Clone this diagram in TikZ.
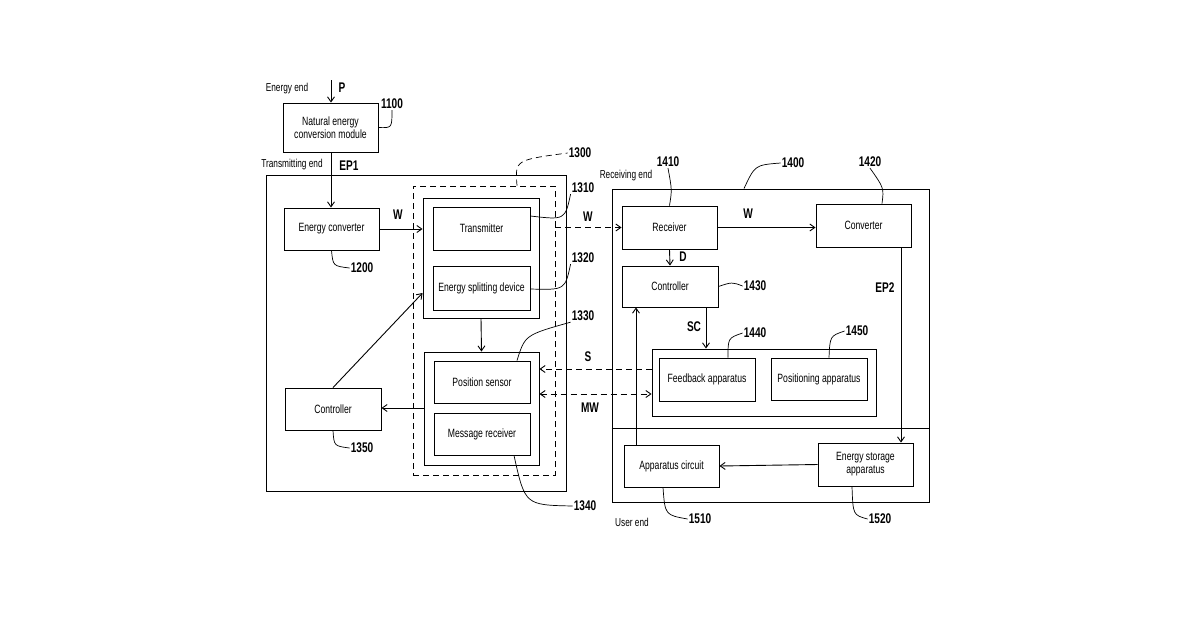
\documentclass[tikz,border=0pt]{standalone}
\usepackage{fontspec}
\setmainfont{Liberation Sans}[FakeStretch=0.72]
\usetikzlibrary{arrows.meta}
\tikzset{
  box/.style={draw, line width=0.9pt, inner sep=0pt, align=center, font=\fontsize{12}{13}\selectfont},
  lbl/.style={font=\fontsize{14}{14}\selectfont\bfseries, inner sep=1pt},
  txt/.style={font=\fontsize{11.5}{11.5}\selectfont, inner sep=1pt},
  lead/.style={line width=0.7pt},
  flow/.style={line width=0.9pt, -{Straight Barb[length=5pt,width=7pt]}},
  dflow/.style={flow, dash pattern=on 6pt off 4pt},
}
\begin{document}
\begin{tikzpicture}[x=1pt,y=-1pt]
    \useasboundingbox (0,0) rectangle (1200,630);

    % Transmitting side
    \node[box, minimum width=95, minimum height=49] (nec) at (330.5,127.5) {Natural energy\\conversion module};
    \coordinate (pin) at (331,80);
    \node[draw, line width=0.9pt, minimum width=300, minimum height=316] (tx) at (416,333) {};
    \node[draw, line width=0.8pt, dash pattern=on 6pt off 4pt, minimum width=142, minimum height=289] (mod) at (484,330.5) {};
    \node[box, minimum width=95, minimum height=42] (ec) at (331.5,229) {Energy converter};
    \node[draw, line width=0.9pt, minimum width=116, minimum height=120] (grpa) at (481,258) {};
    \node[box, minimum width=97, minimum height=43] (tr) at (481.5,228.5) {Transmitter};
    \node[box, minimum width=97, minimum height=44] (es) at (481.5,288) {Energy splitting device};
    \node[draw, line width=0.9pt, minimum width=115, minimum height=113] (grpb) at (481.5,408.5) {};
    \node[box, minimum width=96, minimum height=42] (ps) at (482,382) {Position sensor};
    \node[box, minimum width=96, minimum height=42] (mr) at (482,434) {Message receiver};
    \node[box, minimum width=96, minimum height=42] (ctla) at (333,409) {Controller};

    % Receiving side
    \node[draw, line width=0.9pt, minimum width=317, minimum height=313] (rx) at (770.5,345.5) {};
    \node[box, minimum width=95, minimum height=43] (rcv) at (669.5,227.5) {Receiver};
    \node[box, minimum width=95, minimum height=43] (cnv) at (863.5,225.5) {Converter};
    \node[box, minimum width=96, minimum height=41] (ctlb) at (670,286.5) {Controller};
    \node[draw, line width=0.9pt, minimum width=224, minimum height=67] (grpc) at (764,382.5) {};
    \node[box, minimum width=96, minimum height=43] (fb) at (707,379.5) {Feedback apparatus};
    \node[box, minimum width=96, minimum height=42] (pa) at (819,379) {Positioning apparatus};
    \node[box, minimum width=95, minimum height=42] (ac) at (671.5,466) {Apparatus circuit};
    \node[box, minimum width=95, minimum height=43] (esa) at (865.5,464.5) {Energy storage\\apparatus};
    \draw[line width=0.9pt] (rx.west |- 0,428) -- (rx.east |- 0,428);

    % Flows
    \draw[flow] (pin) -- (nec.north -| pin);
    \draw[flow] (nec.south -| pin) -- (ec.north -| pin);
    \draw[flow] (ec.east) -- (grpa.west |- ec.east);
    \draw[flow] (grpa.south) -- (grpb.north);
    \draw[flow] (ctla.north) -- (grpa.west |- 0,293);
    \draw[flow] (grpb.west |- 0,408) -- (ctla.east |- 0,408);
    \draw[dflow] (mod.east |- rcv.west) -- (rcv.west);
    \draw[flow] (rcv.east) -- (cnv.west |- rcv.east);
    \draw[flow] (rcv.south) -- (ctlb.north);
    \draw[flow] (ctlb.south -| 706,0) -- (grpc.north -| 706,0);
    \draw[dflow] (grpc.west |- 0,369) -- (grpb.east |- 0,369);
    \draw[dflow, {Straight Barb[length=5pt,width=7pt]}-{Straight Barb[length=5pt,width=7pt]}] (grpb.east |- 0,394) -- (grpc.west |- 0,394);
    \draw[flow] (ac.north -| 636,0) -- (ctlb.south -| 636,0);
    \draw[flow] (cnv.south -| 901,0) -- (esa.north -| 901,0);
    \draw[flow] (esa.west) -- (ac.east);

    % Signal labels
    \node[lbl] (lp) at (342,88) {P};
    \node[txt] (lee) at (287,89) {Energy end};
    \node[txt] (lte) at (292,165) {Transmitting end};
    \node[lbl] (lep1) at (349,166) {EP1};
    \node[lbl] (lw1) at (398,215) {W};
    \node[lbl] (lw2) at (588,217) {W};
    \node[lbl] (ls) at (588,357) {S};
    \node[lbl] (lmw) at (590,408) {MW};
    \node[txt] (lre) at (626,176) {Receiving end};
    \node[lbl] (lw3) at (748,214) {W};
    \node[lbl] (ld) at (683,257) {D};
    \node[lbl] (lsc) at (694,327) {SC};
    \node[lbl] (lep2) at (885,288) {EP2};
    \node[txt] (lue) at (632,522) {User end};

    % Reference numerals
    \node[lbl] (n1100) at (392,104) {1100};
    \node[lbl] (n1200) at (362,268) {1200};
    \node[lbl] (n1300) at (580,153) {1300};
    \node[lbl] (n1310) at (583,188) {1310};
    \node[lbl] (n1320) at (583,258) {1320};
    \node[lbl] (n1330) at (583,316) {1330};
    \node[lbl] (n1340) at (585,506) {1340};
    \node[lbl] (n1350) at (362,448) {1350};
    \node[lbl] (n1400) at (793,163) {1400};
    \node[lbl] (n1410) at (668,162) {1410};
    \node[lbl] (n1420) at (870,162) {1420};
    \node[lbl] (n1430) at (755,286) {1430};
    \node[lbl] (n1440) at (755,333) {1440};
    \node[lbl] (n1450) at (857,331) {1450};
    \node[lbl] (n1510) at (700,519) {1510};
    \node[lbl] (n1520) at (880,519) {1520};

    % Leaders
    \draw[lead] (nec.east) .. controls (392,128) .. (n1100.south);
    \draw[lead] (ec.south) .. controls (333,266) .. (n1200.west);
    \draw[lead, dash pattern=on 6pt off 4pt] (mod.north -| 517,0) .. controls (515,160) .. (n1300.west);
    \draw[lead] (tr.east |- 0,216) .. controls (565,220) .. (n1310.south west);
    \draw[lead] (es.east |- 0,289) .. controls (565,290) .. (n1320.south west);
    \draw[lead] (ps.north -| 517,0) .. controls (525,335) .. (n1330.south west);
    \draw[lead] (mr.south -| 514,0) .. controls (525,505) .. (n1340.west);
    \draw[lead] (ctla.south) .. controls (334,446) .. (n1350.west);
    \draw[lead] (rx.north -| 744,0) .. controls (755,165) .. (n1400.west);
    \draw[lead] (rcv.north) .. controls (672,190) .. (n1410.south);
    \draw[lead] (cnv.north -| 882,0) .. controls (884,188) .. (n1420.south);
    \draw[lead] (ctlb.east) .. controls (732,282) .. (n1430.west);
    \draw[lead] (fb.north -| 728,0) .. controls (728,338) .. (n1440.west);
    \draw[lead] (pa.north -| 829,0) .. controls (830,336) .. (n1450.west);
    \draw[lead] (ac.south -| 663,0) .. controls (665,515) .. (n1510.west);
    \draw[lead] (esa.south -| 852,0) .. controls (853,515) .. (n1520.west);
\end{tikzpicture}
\end{document}
